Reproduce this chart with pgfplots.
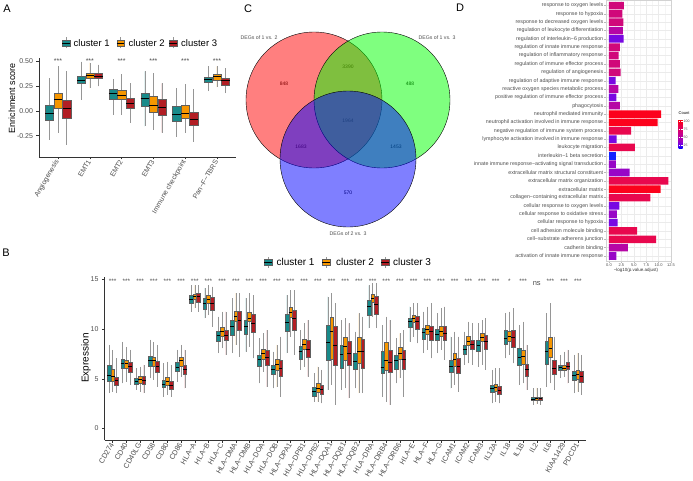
\documentclass[border=0pt]{standalone}
\usepackage{fontspec}
\setmainfont{Liberation Sans}
\usepackage{pgfplots}
\pgfplotsset{compat=1.18}
\usepgfplotslibrary{statistics}

\definecolor{cA}{RGB}{24,138,138}
\definecolor{cB}{RGB}{246,150,0}
\definecolor{cC}{RGB}{178,30,36}
\definecolor{tickgray}{RGB}{77,77,77}
\definecolor{boxline}{RGB}{95,95,95}
\definecolor{whisk}{RGB}{150,150,150}
\definecolor{k1}{RGB}{20,35,255}
\definecolor{k2}{RGB}{120,8,226}
\definecolor{k3}{RGB}{152,6,198}
\definecolor{k4}{RGB}{182,6,165}
\definecolor{k5}{RGB}{208,8,122}
\definecolor{k6}{RGB}{232,8,78}
\definecolor{k7}{RGB}{252,2,28}

\pgfplotsset{
  boxA/.style={draw=boxline, fill=cA, line width=0.35pt},
  boxB/.style={draw=boxline, fill=cB, line width=0.35pt},
  boxC/.style={draw=boxline, fill=cC, line width=0.35pt},
  bxcommon/.style={boxplot/draw direction=y, boxplot/whisker extend=0,
    boxplot/every whisker/.style={draw=whisk, line width=0.5pt},
    boxplot/every median/.style={draw=black, line width=0.75pt}},
  hbar/.style={xbar, bar shift=0pt, bar width=0.9, draw=none},
}
\newcommand{\fs}[1]{\fontsize{#1}{#1}\selectfont}
\newcommand{\bxx}[7]{\addplot[#1, boxplot prepared={draw position={#2}, lower whisker=#3, lower quartile=#4, median=#5, upper quartile=#6, upper whisker=#7}] coordinates {};}
\newcommand{\trio}[4]{\bxx{boxA}{#1-0.27}#2\bxx{boxB}{#1}#3\bxx{boxC}{#1+0.27}#4}
\newcommand{\lkey}[3]{%
  \draw[whisk,line width=0.45pt] (#1pt,#2pt-5.5pt)--(#1pt,#2pt+5.5pt);
  \filldraw[fill=#3, draw=boxline, line width=0.35pt] (#1pt-3.8pt,#2pt-3.3pt) rectangle (#1pt+3.8pt,#2pt+3.3pt);
  \draw[black,line width=0.7pt] (#1pt-3.8pt,#2pt)--(#1pt+3.8pt,#2pt);}

\begin{document}
\begin{tikzpicture}
\useasboundingbox (0pt,0pt) rectangle (693pt,480pt);

%%%%%%%%%%%%%%%% Panel A
\begin{axis}[at={(39pt,323pt)}, anchor=south west, scale only axis, width=197pt, height=99pt,
  xmin=0.4, xmax=6.6, ymin=-0.466, ymax=0.536, clip=false,
  axis lines*=left, axis line style={gray!40!black, line width=0.5pt},
  tick align=outside, major tick length=2.5pt, tick style={gray!40!black, line width=0.5pt},
  /pgf/number format/assume math mode=true,
  xtick={1,...,6}, xticklabels={Angiogenesis,EMT1,EMT2,EMT3,Immune checkpoint,Pan−F−TBRS},
  xticklabel style={rotate=60, anchor=east, inner sep=1pt, font=\fs{7}, text=tickgray},
  ytick={-0.25,0,0.25,0.5}, yticklabels={-0.25,0.00,0.25,0.50},
  yticklabel style={font=\fs{7}, text=tickgray},
  bxcommon, boxplot/box extend=0.26]
\trio{1}{{-0.29}{-0.095}{-0.027}{0.054}{0.33}}{{-0.22}{0.03}{0.115}{0.18}{0.45}}{{-0.34}{-0.078}{0.024}{0.105}{0.40}}
\trio{2}{{0.115}{0.277}{0.314}{0.355}{0.50}}{{0.23}{0.33}{0.36}{0.385}{0.49}}{{0.25}{0.328}{0.35}{0.378}{0.47}}
\trio{3}{{-0.04}{0.12}{0.176}{0.223}{0.32}}{{-0.04}{0.118}{0.162}{0.21}{0.37}}{{-0.12}{0.03}{0.081}{0.128}{0.28}}
\trio{4}{{-0.155}{0.05}{0.125}{0.176}{0.40}}{{-0.19}{-0.01}{0.061}{0.145}{0.38}}{{-0.22}{-0.044}{0.037}{0.118}{0.28}}
\trio{5}{{-0.26}{-0.105}{-0.03}{0.044}{0.23}}{{-0.22}{-0.078}{-0.024}{0.054}{0.27}}{{-0.31}{-0.145}{-0.09}{-0.017}{0.22}}
\trio{6}{{0.2}{0.287}{0.318}{0.34}{0.45}}{{0.24}{0.314}{0.345}{0.368}{0.45}}{{0.18}{0.26}{0.307}{0.33}{0.43}}
\pgfplotsinvokeforeach{1,...,6}{\node[font=\fs{7}, text=tickgray, inner sep=0pt] at (axis cs:#1,0.50) {***};}
\end{axis}

%%%%%%%%%%%%%%%% Panel B
\begin{axis}[at={(104.5pt,40pt)}, anchor=south west, scale only axis, width=481.5pt, height=162.7pt,
  xmin=0.4, xmax=35.6, ymin=-1.15, ymax=15.2, clip=false,
  axis lines*=left, axis line style={gray!40!black, line width=0.5pt},
  tick align=outside, major tick length=2.5pt, tick style={gray!40!black, line width=0.5pt},
  /pgf/number format/assume math mode=true,
  xtick={1,...,35},
  xticklabels={CD274,CD40,CD40LG,CD58,CD80,CD86,HLA−A,HLA−B,HLA−C,HLA−DMA,HLA−DMB,HLA−DOA,HLA−DOB,HLA−DPA1,HLA−DPB1,HLA−DPB2,HLA−DQA1,HLA−DQB1,HLA−DQB2,HLA−DRA,HLA−DRB4,HLA−DRB6,HLA−E,HLA−F,HLA−G,ICAM1,ICAM2,ICAM3,IL12A,IL18,IL1B,IL2,IL6,KIAA1429,PDCD1},
  xticklabel style={rotate=60, anchor=east, inner sep=1pt, font=\fs{7.3}, text=tickgray},
  ytick={0,5,10,15},
  yticklabel style={font=\fs{7}, text=tickgray},
  bxcommon, boxplot/box extend=0.27]
\trio{1}{{3.55}{4.72}{5.33}{6.39}{8.4}}{{3.7}{4.79}{5.25}{5.99}{7.9}}{{3.55}{4.39}{4.8}{5.2}{7.06}}
\trio{2}{{4.55}{6.03}{6.56}{6.96}{8.7}}{{4.7}{6.03}{6.53}{6.9}{8.2}}{{4.4}{5.62}{6.23}{6.66}{7.9}}
\trio{3}{{3.88}{4.42}{4.72}{5.02}{6.06}}{{3.7}{4.55}{4.92}{5.22}{6.23}}{{3.55}{4.49}{4.89}{5.22}{6.4}}
\trio{4}{{5.06}{6.29}{6.9}{7.3}{8.9}}{{4.89}{6.29}{6.9}{7.16}{8.7}}{{4.2}{5.66}{6.23}{6.73}{8.4}}
\trio{5}{{3.2}{4.15}{4.49}{4.89}{6.56}}{{3.38}{4.39}{4.79}{5.19}{6.73}}{{3.2}{3.98}{4.35}{4.72}{6.4}}
\trio{6}{{4.72}{5.72}{6.19}{6.66}{7.9}}{{5.22}{6.23}{6.83}{7.13}{8.4}}{{4.05}{5.46}{5.99}{6.39}{7.9}}
\trio{7}{{11.75}{12.6}{13.0}{13.4}{14.4}}{{12.1}{13.0}{13.3}{13.5}{14.4}}{{11.75}{12.75}{13.3}{13.6}{14.4}}
\trio{8}{{11.1}{12.0}{12.6}{13.1}{14.1}}{{11.4}{12.6}{13.0}{13.36}{14.4}}{{10.25}{11.85}{12.6}{13.2}{14.26}}
\trio{9}{{7.57}{8.74}{9.34}{9.74}{11.25}}{{8.07}{9.24}{9.74}{10.18}{11.75}}{{7.4}{8.84}{9.37}{9.9}{11.75}}
\trio{10}{{7.57}{9.4}{10.24}{10.9}{13.1}}{{8.4}{10.75}{11.25}{11.8}{13.6}}{{7.23}{9.84}{10.9}{11.8}{13.6}}
\trio{11}{{7.73}{9.5}{10.3}{10.9}{13.1}}{{8.24}{10.75}{11.08}{11.65}{13.6}}{{7.06}{9.64}{10.58}{11.5}{13.4}}
\trio{12}{{4.55}{6.23}{6.96}{7.4}{9.07}}{{5.72}{6.96}{7.57}{8.0}{9.57}}{{4.2}{6.39}{7.16}{7.9}{9.9}}
\trio{13}{{4.05}{5.46}{5.99}{6.39}{7.73}}{{4.2}{5.89}{6.46}{7.0}{8.4}}{{3.2}{5.22}{6.0}{6.83}{9.24}}
\trio{14}{{7.57}{9.74}{10.68}{11.5}{13.4}}{{9.24}{11.15}{11.68}{12.19}{13.9}}{{7.4}{9.9}{11.08}{11.9}{13.9}}
\trio{15}{{5.9}{7.0}{7.73}{8.3}{9.9}}{{6.23}{7.97}{8.5}{9.0}{10.58}}{{5.22}{7.16}{8.0}{8.84}{10.9}}
\trio{16}{{2.71}{3.28}{3.72}{4.15}{5.56}}{{2.71}{3.62}{4.05}{4.55}{6.23}}{{2.54}{3.45}{3.95}{4.39}{5.89}}
\trio{17}{{3.88}{6.83}{8.64}{10.4}{13.26}}{{4.39}{6.96}{9.74}{11.18}{13.6}}{{2.38}{6.39}{8.4}{10.24}{12.6}}
\trio{18}{{3.88}{6.06}{7.5}{8.4}{10.9}}{{4.05}{6.83}{8.24}{9.14}{11.08}}{{3.05}{6.33}{7.57}{8.74}{10.58}}
\trio{19}{{4.05}{5.96}{6.73}{7.57}{9.74}}{{3.55}{6.56}{7.8}{9.17}{11.58}}{{3.55}{6.06}{7.73}{8.97}{11.25}}
\trio{20}{{10.1}{11.4}{12.25}{12.9}{14.4}}{{11.25}{12.7}{13.1}{13.5}{14.6}}{{10.1}{11.48}{12.5}{13.26}{14.6}}
\trio{21}{{3.2}{5.56}{6.16}{7.8}{10.4}}{{2.71}{5.89}{6.83}{8.64}{11.25}}{{2.38}{5.66}{6.63}{7.9}{10.9}}
\trio{22}{{4.55}{6.0}{6.83}{7.4}{9.07}}{{5.06}{6.96}{7.57}{8.17}{9.57}}{{3.2}{5.96}{6.96}{7.9}{9.9}}
\trio{23}{{8.74}{10.18}{10.75}{11.08}{12.25}}{{9.24}{10.65}{11.08}{11.4}{12.6}}{{8.57}{9.97}{10.8}{11.25}{12.6}}
\trio{24}{{7.57}{8.97}{9.64}{10.08}{11.75}}{{7.9}{9.5}{10.0}{10.4}{12.25}}{{7.06}{8.9}{9.74}{10.3}{12.6}}
\trio{25}{{7.57}{8.9}{9.5}{10.0}{11.58}}{{7.9}{9.3}{9.8}{10.24}{12.08}}{{6.9}{8.84}{9.57}{10.24}{12.25}}
\trio{26}{{4.05}{5.62}{6.23}{6.9}{9.24}}{{4.39}{6.29}{6.96}{7.57}{9.74}}{{3.72}{5.56}{6.23}{7.06}{9.24}}
\trio{27}{{6.39}{7.47}{7.97}{8.4}{9.74}}{{6.56}{8.4}{8.8}{9.24}{10.75}}{{6.39}{8.0}{8.5}{8.9}{10.58}}
\trio{28}{{6.23}{7.8}{8.4}{8.9}{10.58}}{{6.39}{8.74}{9.14}{9.57}{10.9}}{{5.89}{7.97}{8.74}{9.34}{11.08}}
\trio{29}{{2.54}{3.62}{4.05}{4.39}{5.89}}{{2.71}{3.72}{4.15}{4.49}{6.06}}{{2.54}{3.48}{3.88}{4.22}{6.06}}
\trio{30}{{7.06}{8.5}{9.07}{9.84}{11.58}}{{7.4}{8.74}{9.24}{9.8}{11.75}}{{6.56}{8.17}{9.14}{9.9}{12.08}}
\trio{31}{{4.39}{6.39}{7.16}{8.07}{10.4}}{{4.55}{6.5}{7.23}{7.9}{10.75}}{{3.88}{5.29}{5.96}{6.46}{8.4}}
\trio{32}{{2.38}{2.81}{2.98}{3.15}{4.05}}{{2.45}{2.83}{3.0}{3.15}{4.1}}{{2.38}{2.81}{3.0}{3.18}{4.05}}
\trio{33}{{4.2}{6.5}{7.73}{8.74}{11.58}}{{4.55}{7.16}{8.07}{9.17}{12.6}}{{3.88}{5.49}{6.06}{6.83}{9.24}}
\trio{34}{{5.06}{5.89}{6.13}{6.33}{7.4}}{{5.22}{5.83}{6.06}{6.33}{7.73}}{{4.55}{5.96}{6.29}{6.63}{7.9}}
\trio{35}{{3.55}{4.89}{5.32}{5.72}{7.4}}{{3.72}{4.95}{5.46}{5.89}{7.57}}{{3.38}{4.65}{5.22}{5.72}{7.4}}
\pgfplotsinvokeforeach{1,...,29,31,33,34,35}{\node[font=\fs{6.5}, text=tickgray, inner sep=0pt] at (axis cs:#1,14.85) {***};}
\node[font=\fs{6.5}, text=tickgray, inner sep=0pt] at (axis cs:30,14.85) {*};
\node[font=\fs{7.5}, text=tickgray, inner sep=0pt] at (axis cs:32,14.6) {ns};
\end{axis}

%%%%%%%%%%%%%%%% Panel C (Venn)
\begin{axis}[at={(240pt,240pt)}, anchor=south west, scale only axis, width=220pt, height=240pt,
  xmin=240, xmax=460, ymin=0, ymax=240, y dir=reverse, hide axis, clip=false]
\addplot[only marks, mark=*, mark size=68pt, mark options={fill=red, fill opacity=0.5, draw=black, line width=0.4pt}] coordinates {(314,100)};
\addplot[only marks, mark=*, mark size=68pt, mark options={fill=green, fill opacity=0.5, draw=black, line width=0.4pt}] coordinates {(382,100)};
\addplot[only marks, mark=*, mark size=68pt, mark options={fill=blue, fill opacity=0.5, draw=black, line width=0.4pt}] coordinates {(348,159)};
\node[font=\fs{5}] at (axis cs:284,84) {848};
\node[font=\fs{5}] at (axis cs:348,67) {3390};
\node[font=\fs{5}] at (axis cs:410,84) {488};
\node[font=\fs{5}] at (axis cs:348,121) {1964};
\node[font=\fs{5}] at (axis cs:301,147) {1683};
\node[font=\fs{5}] at (axis cs:396,147) {1453};
\node[font=\fs{5}] at (axis cs:348,193) {570};
\node[font=\fs{5.2}, text=tickgray] at (axis cs:259,38) {DEGs of 1 vs. 2};
\node[font=\fs{5.2}, text=tickgray] at (axis cs:437,38) {DEGs of 1 vs. 3};
\node[font=\fs{5.2}, text=tickgray] at (axis cs:348,234) {DEGs of 2 vs. 3};
\end{axis}

%%%%%%%%%%%%%%%% Panel D
\begin{axis}[at={(606pt,219pt)}, anchor=south west, scale only axis, width=65.5pt, height=260.5pt,
  xmin=-0.6, xmax=12.6, ymin=0.4, ymax=31.6, y dir=reverse,
  axis line style={gray!35, line width=0.4pt},
  grid=both, minor x tick num=1, minor tick length=0pt,
  major grid style={gray!16, line width=0.3pt}, minor grid style={gray!8, line width=0.25pt},
  tick pos=left, tick align=outside, major tick length=1.6pt, tick style={gray!55, line width=0.3pt},
  /pgf/number format/assume math mode=true,
  xtick={0,2.5,5,7.5,10,12.5}, xticklabels={0.0,2.5,5.0,7.5,10.0,12.5},
  xticklabel style={font=\fs{4}, text=tickgray, inner sep=1pt},
  ytick={1,...,31},
  yticklabels={response to oxygen levels,response to hypoxia,response to decreased oxygen levels,regulation of leukocyte differentiation,regulation of interleukin−6 production,regulation of innate immune response,regulation of inflammatory response,regulation of immune effector process,regulation of angiogenesis,regulation of adaptive immune response,reactive oxygen species metabolic process,positive regulation of immune effector process,phagocytosis,neutrophil mediated immunity,neutrophil activation involved in immune response,negative regulation of immune system process,lymphocyte activation involved in immune response,leukocyte migration,interleukin−1 beta secretion,innate immune response−activating signal transduction,extracellular matrix structural constituent,extracellular matrix organization,extracellular matrix,collagen−containing extracellular matrix,cellular response to oxygen levels,cellular response to oxidative stress,cellular response to hypoxia,cell adhesion molecule binding,cell−substrate adherens junction,cadherin binding,activation of innate immune response},
  yticklabel style={font=\fs{5.3}, text=tickgray, inner sep=1pt},
  colormap={gg}{rgb255(0cm)=(0,0,255) rgb255(1cm)=(115,0,224) rgb255(2cm)=(154,0,195) rgb255(4cm)=(201,0,136) rgb255(6cm)=(232,0,79) rgb255(8cm)=(255,0,0)},
  point meta min=15, point meta max=106,
  colorbar,
  colorbar style={at={(parent axis.north east)}, anchor=north west, xshift=-1.5pt, yshift=-118.5pt,
    scale only axis, width=4pt, height=29pt,
    ytick={25,50,75,100}, yticklabel style={font=\fs{3.5}, text=tickgray, inner sep=1pt},
    /pgf/number format/assume math mode=true,
    major tick length=1.2pt, tick style={white, line width=0.3pt}, axis line style={draw=none},
    title={Count}, title style={font=\fs{4}, anchor=south west, at={(0,1)}, yshift=-2pt, inner sep=0pt}},
  ]
\addplot[hbar, fill=k1] coordinates {(1.4,19)};
\addplot[hbar, fill=k2] coordinates {(2.95,5) (1.35,10) (1.5,12) (1.55,17) (2.1,25) (1.75,27)};
\addplot[hbar, fill=k3] coordinates {(1.4,20) (4.15,21) (1.6,26) (1.5,31)};
\addplot[hbar, fill=k4] coordinates {(2.8,4) (1.9,11) (2.2,13) (3.8,30)};
\addplot[hbar, fill=k5] coordinates {(3.0,1) (2.7,2) (2.9,3) (2.2,6) (1.95,7) (2.2,8) (2.35,9)};
\addplot[hbar, fill=k6] coordinates {(4.45,16) (5.2,18) (11.95,22) (8.35,24) (5.65,28) (9.5,29)};
\addplot[hbar, fill=k7] coordinates {(10.5,14) (9.8,15) (10.4,23)};
\end{axis}
\node[font=\fs{4.5}, text=black!80] at (636pt,210pt) {−log10(p.value.adjust)};

%%%%%%%%%%%%%%%% Axis titles, legends, panel letters
\node[rotate=90, font=\fs{9}] at (12pt,382pt) {Enrichment score};
\node[rotate=90, font=\fs{10}] at (86pt,122pt) {Expression};

\lkey{66}{437}{cA}
\lkey{120.5}{437}{cB}
\lkey{173}{437}{cC}
\node[anchor=west, inner sep=0pt, font=\fs{9.5}] at (73.5pt,437pt) {cluster 1};
\node[anchor=west, inner sep=0pt, font=\fs{9.5}] at (128.5pt,437pt) {cluster 2};
\node[anchor=west, inner sep=0pt, font=\fs{9.5}] at (181pt,437pt) {cluster 3};

\lkey{268}{218}{cA}
\lkey{326}{218}{cB}
\lkey{385}{218}{cC}
\node[anchor=west, inner sep=0pt, font=\fs{10}] at (276.5pt,218pt) {cluster 1};
\node[anchor=west, inner sep=0pt, font=\fs{10}] at (336pt,218pt) {cluster 2};
\node[anchor=west, inner sep=0pt, font=\fs{10}] at (393pt,218pt) {cluster 3};

\node[font=\fs{11}] at (7pt,471pt) {A};
\node[font=\fs{11}] at (6pt,227pt) {B};
\node[font=\fs{11}] at (248pt,471pt) {C};
\node[font=\fs{11}] at (460pt,472pt) {D};
\end{tikzpicture}
\end{document}
